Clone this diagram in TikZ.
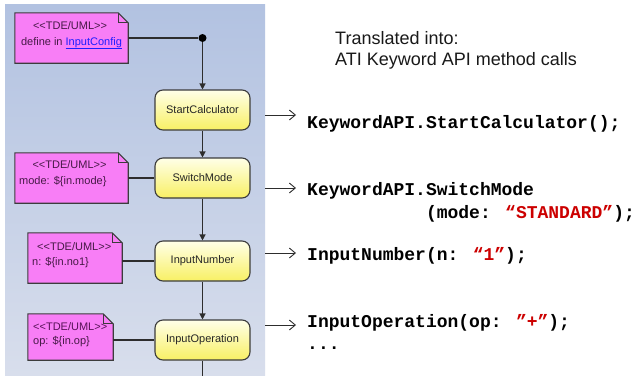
\documentclass[tikz,border=0pt]{standalone}
\usepackage{fontspec}
\setmainfont{Liberation Sans}[Ligatures=TeXOff]
\newfontfamily\codefont{Liberation Mono}[Ligatures=TeXOff]
\usetikzlibrary{arrows.meta}
\pgfdeclarelayer{back}
\pgfdeclarelayer{mid}
\pgfsetlayers{back,mid,main}
\definecolor{panelTop}{RGB}{178,194,225}
\definecolor{panelBot}{RGB}{216,222,236}
\definecolor{notepink}{RGB}{248,126,246}
\definecolor{noteline}{RGB}{60,60,60}
\definecolor{notetxt}{RGB}{70,25,70}
\definecolor{boxTop}{RGB}{255,255,232}
\definecolor{boxBot}{RGB}{248,240,100}
\definecolor{linkblue}{RGB}{30,30,255}
\definecolor{codered}{RGB}{204,0,0}
\definecolor{connc}{RGB}{45,45,45}
\tikzset{
  x=1pt, y=-1pt,
  uitext/.style={font=\fontsize{11}{13}\selectfont, text=notetxt, inner sep=0pt},
  notebox/.style={inner sep=0pt, draw=none, fill=none},
  notepoly/.style={draw=noteline, fill=notepink, line width=1.1pt, line join=miter},
  actbox/.style={draw=noteline, line width=1.1pt, rounded corners=8pt,
    top color=boxTop, bottom color=boxBot, minimum width=95pt, minimum height=40pt,
    inner sep=0pt, font=\fontsize{11}{13}\selectfont, text=black!85},
  conn/.style={draw=connc, line width=1.2pt},
  flow/.style={conn, -{Triangle[length=6pt,width=6pt]}},
  maparrow/.style={draw=connc, line width=0.9pt, -{Straight Barb[length=6pt,width=10pt]}, shorten >=11pt},
  codetext/.style={font=\codefont\bfseries\fontsize{18}{20}\selectfont, inner sep=0pt, anchor=base west},
  headtext/.style={font=\fontsize{18}{21}\selectfont, inner sep=0pt, anchor=base west, text=black!90}
}
\newcommand{\drawnote}[1]{%
  \draw[notepoly] (#1.north west) -- ([xshift=-10pt]#1.north east) -- ([yshift=-10pt]#1.north east)
     -- (#1.south east) -- (#1.south west) -- cycle;
  \draw[noteline, line width=0.8pt] ([xshift=-10pt]#1.north east) -- ([xshift=-10pt,yshift=-10pt]#1.north east)
     -- ([yshift=-10pt]#1.north east);
}
\newcommand{\tdeuml}{<<TDE/UML>>}
\begin{document}
\begin{tikzpicture}
\useasboundingbox (0,0) rectangle (634,375);
\begin{pgfonlayer}{back}
  \fill[white] (0,0) rectangle (634,375);
  \shade[top color=panelTop, bottom color=panelBot] (5,4) rectangle (265,375);
\end{pgfonlayer}

% notes (frames)
\node[notebox, minimum width=113pt, minimum height=50pt] (n1) at (71.5,38) {};
\node[notebox, minimum width=113pt, minimum height=50pt] (n2) at (71.5,178) {};
\node[notebox, minimum width=94pt, minimum height=50pt] (n3) at (75,258) {};
\node[notebox, minimum width=85pt, minimum height=46pt] (n4) at (70.5,337) {};
\begin{pgfonlayer}{mid}
  \drawnote{n1}
  \drawnote{n2}
  \drawnote{n3}
  \drawnote{n4}
\end{pgfonlayer}

% note texts
\node[uitext, anchor=base] (t1a) at (70,29) {\tdeuml};
\node[uitext, anchor=base] (t1b) at (71.5,45) {define in \textcolor{linkblue}{\underline{InputConfig}}};
\node[uitext, anchor=base] (t2a) at (69.5,168) {\tdeuml};
\node[uitext, anchor=base west] (t2b) at (19,184) {mode: \$\{in.mode\}};
\node[uitext, anchor=base west] (t3a) at (37,250) {\tdeuml};
\node[uitext, anchor=base west] (t3b) at (32,265) {n: \$\{in.no1\}};
\node[uitext, anchor=base west, text=notetxt!70!violet] (t4a) at (33,330) {\tdeuml};
\node[uitext, anchor=base west] (t4b) at (33,344) {op: \$\{in.op\}};

% activity boxes
\node[actbox] (b1) at (202.5,110) {StartCalculator};
\node[actbox] (b2) at (202.5,178) {SwitchMode};
\node[actbox] (b3) at (202.5,261) {InputNumber};
\node[actbox] (b4) at (202.5,340) {InputOperation};

% fork dot
\node[circle, fill=black, inner sep=0pt, minimum size=8pt] (dot) at (202.5,38) {};
\coordinate (bend) at (202.5,380);

\draw[conn] (n1.east) -- (dot);
\draw[flow] (dot) -- (b1);
\draw[flow] (b1) -- (b2);
\draw[flow] (b2) -- (b3);
\draw[flow] (b3) -- (b4);
\draw[conn] (b4) -- (bend);
\draw[conn] (n2.east |- b2.west) -- (b2.west);
\draw[conn] (n3.east |- b3.west) -- (b3.west);
\draw[conn] (n4.east |- b4.west) -- (b4.west);

% header
\node[headtext] (h1) at (335,44) {Translated into:};
\node[headtext] (h2) at (335,65) {ATI Keyword API method calls};

% code
\node[codetext] (c1) at (307,128) {KeywordAPI.StartCalculator();};
\node[codetext] (c2) at (307,195) {KeywordAPI.SwitchMode};
\node[codetext] (c2b) at (307,218) {\hphantom{KeywordAPI.}(mode: \textcolor{codered}{“STANDARD”});};
\node[codetext] (c3) at (307,260) {InputNumber(n: \textcolor{codered}{“1”});};
\node[codetext] (c4) at (307,327) {InputOperation(op: \textcolor{codered}{”+”});};
\node[codetext] (c5) at (307,349) {...};

\coordinate (a1) at (265,115);
\coordinate (a2) at (265,188);
\coordinate (a3) at (265,253);
\coordinate (a4) at (265,325);
\draw[maparrow] (a1) -- (c1.west |- a1);
\draw[maparrow] (a2) -- (c2.west |- a2);
\draw[maparrow] (a3) -- (c3.west |- a3);
\draw[maparrow] (a4) -- (c4.west |- a4);
\end{tikzpicture}
\end{document}
